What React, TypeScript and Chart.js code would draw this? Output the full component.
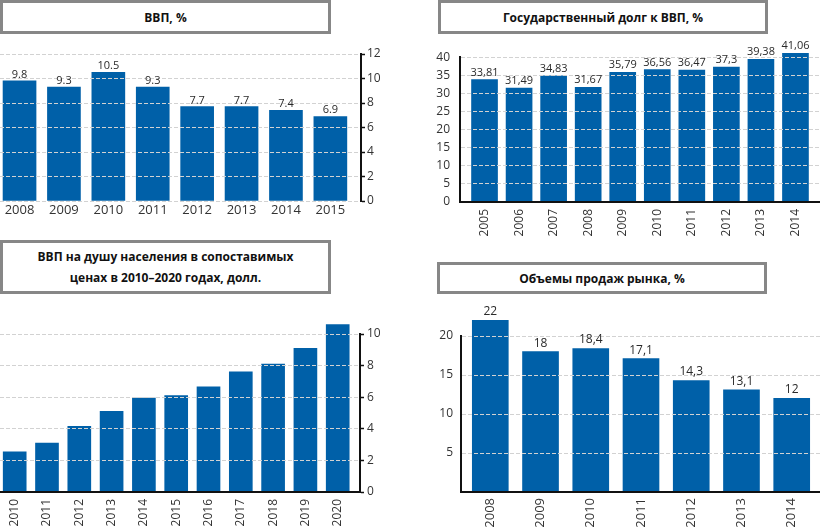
import React, { useEffect, useRef } from 'react';
import { Chart, registerables } from 'chart.js';

Chart.register(...registerables);

// ---------- data ----------
const gdpYears = ['2008', '2009', '2010', '2011', '2012', '2013', '2014', '2015'];
const gdpValues = [9.8, 9.3, 10.5, 9.3, 7.7, 7.7, 7.4, 6.9];

const debtYears = ['2005', '2006', '2007', '2008', '2009', '2010', '2011', '2012', '2013', '2014'];
const debtValues = [33.81, 31.49, 34.83, 31.67, 35.79, 36.56, 36.47, 37.3, 39.38, 41.06];

const perCapitaYears = ['2010', '2011', '2012', '2013', '2014', '2015', '2016', '2017', '2018', '2019', '2020'];
const perCapitaValues = [2.55, 3.1, 4.15, 5.1, 5.95, 6.1, 6.65, 7.6, 8.1, 9.1, 10.6];

const salesYears = ['2008', '2009', '2010', '2011', '2012', '2013', '2014'];
const salesValues = [22, 18, 18.4, 17.1, 14.3, 13.1, 12];

const titles = {
  gdp: 'ВВП, %',
  debt: 'Государственный долг к ВВП, %',
  perCapita: ['ВВП на душу населения в сопоставимых', 'ценах в 2010–2020 годах, долл.'],
  sales: 'Объемы продаж рынка, %',
};

// ---------- style ----------
const BAR = '#0060a8';
const GRID = 'rgba(210,210,210,1)';
const FONT = "'Open Sans', 'DejaVu Sans', sans-serif";
const AXIS = '#111';

Chart.defaults.font.family = FONT;
Chart.defaults.color = '#333';

function fmt(v: number, sep: string) {
  return String(v).replace('.', sep);
}

type Spec = {
  labels: string[];
  values: number[];
  sep: string | null;
  labelSize: number;
  labelGap: number;
  xMin: number;
  xMax: number;
  barThickness: number;
  yMax: number;
  yStep: number;
  yPos: 'left' | 'right';
  yWidth: number;
  yPad: number;
  tickMarks: boolean;
  hideZero: boolean;
  xHeight: number;
  xPad: number;
  xFont: number;
  rotate: number;
  xBorder: boolean;
  padTop: number;
};

function buildConfig(p: Spec): any {
  const texts = p.sep === null ? null : p.values.map((v) => fmt(v, p.sep as string));
  const valueLabels = {
    id: 'valueLabels',
    afterDraw(chart: any) {
      if (!texts) return;
      const meta = chart.getDatasetMeta(0);
      const ctx = chart.ctx;
      ctx.save();
      ctx.font = `${p.labelSize}px ${FONT}`;
      ctx.fillStyle = '#2a2a2a';
      ctx.textAlign = 'center';
      ctx.textBaseline = 'alphabetic';
      meta.data.forEach((el: any, i: number) => {
        ctx.fillText(texts[i], el.x, el.y - p.labelGap);
      });
      ctx.restore();
    },
  };
  return {
    type: 'bar',
    data: {
      datasets: [
        {
          data: p.values.map((v, i) => ({ x: i, y: v })),
          backgroundColor: BAR,
          borderWidth: 0,
          barThickness: p.barThickness,
          clip: false,
        },
      ],
    },
    plugins: [valueLabels],
    options: {
      responsive: false,
      animation: false,
      events: [],
      layout: { padding: { top: p.padTop, left: 0, right: 0, bottom: 0 } },
      plugins: {
        legend: { display: false },
        tooltip: { enabled: false },
        title: { display: false },
      },
      scales: {
        x: {
          type: 'linear',
          offset: false,
          min: p.xMin,
          max: p.xMax,
          afterBuildTicks: (s: any) => {
            s.ticks = p.labels.map((_, i) => ({ value: i }));
          },
          afterFit: (s: any) => {
            s.height = p.xHeight;
          },
          grid: { display: false, drawTicks: false, offset: false },
          border: { display: p.xBorder, color: AXIS, width: 2, z: 2 },
          ticks: {
            autoSkip: false,
            maxRotation: p.rotate,
            minRotation: p.rotate,
            padding: p.xPad,
            color: '#333',
            font: { size: p.xFont },
            callback: (v: number) => (p.labels[v] !== undefined ? p.labels[v] : ''),
          },
        },
        y: {
          position: p.yPos,
          min: 0,
          max: p.yMax,
          afterFit: (s: any) => {
            s.width = p.yWidth;
          },
          grid: {
            z: 1,
            color: GRID,
            lineWidth: 1,
            drawTicks: p.tickMarks,
            tickLength: 4,
            tickColor: AXIS,
            tickWidth: 1.5,
            tickBorderDash: [],
          },
          border: { display: true, color: AXIS, width: 2, dash: [4, 2], z: 2 },
          ticks: {
            stepSize: p.yStep,
            padding: p.yPad,
            color: '#333',
            font: { size: 12 },
            callback: (v: number) => (p.hideZero && v === 0 ? null : String(v)),
          },
        },
      },
    },
  };
}

type Box = { left: number; top: number; width: number; height: number };

function BarPanel({ box, spec }: { box: Box; spec: Spec }) {
  const ref = useRef<HTMLCanvasElement | null>(null);
  useEffect(() => {
    if (!ref.current) return;
    const chart = new Chart(ref.current, buildConfig(spec));
    return () => chart.destroy();
  }, []);
  return (
    <div style={{ position: 'absolute', left: box.left, top: box.top, width: box.width, height: box.height }}>
      <canvas ref={ref} width={box.width} height={box.height} style={{ display: 'block' }} />
    </div>
  );
}

function TitleBox({ box, lines }: { box: Box; lines: string[] }) {
  return (
    <div
      style={{
        position: 'absolute',
        left: box.left,
        top: box.top,
        width: box.width,
        height: box.height,
        boxSizing: 'border-box',
        border: '3px solid #878787',
        background: '#fff',
        display: 'flex',
        flexDirection: 'column',
        alignItems: 'center',
        justifyContent: 'center',
        fontFamily: FONT,
        fontWeight: 700,
        fontSize: 12,
        lineHeight: '21px',
        color: '#111',
        textAlign: 'center',
      }}
    >
      {lines.map((l, i) => (
        <div key={i}>{l}</div>
      ))}
    </div>
  );
}

export default function App() {
  const gdpSpec: Spec = {
    labels: gdpYears,
    values: gdpValues,
    sep: '.',
    labelSize: 11,
    labelGap: 3,
    xMin: -0.44,
    xMax: 7.69,
    barThickness: 33,
    yMax: 12,
    yStep: 2,
    yPos: 'right',
    yWidth: 39,
    yPad: 2,
    tickMarks: true,
    hideZero: false,
    xHeight: 24,
    xPad: 1,
    xFont: 13,
    rotate: 0,
    xBorder: false,
    padTop: 14,
  };
  const debtSpec: Spec = {
    labels: debtYears,
    values: debtValues,
    sep: ',',
    labelSize: 11,
    labelGap: 4,
    xMin: -0.71,
    xMax: 9.71,
    barThickness: 26,
    yMax: 40,
    yStep: 5,
    yPos: 'left',
    yWidth: 50,
    yPad: 10,
    tickMarks: false,
    hideZero: false,
    xHeight: 38,
    xPad: 7,
    xFont: 12,
    rotate: 90,
    xBorder: true,
    padTop: 13,
  };
  const perCapitaSpec: Spec = {
    labels: perCapitaYears,
    values: perCapitaValues,
    sep: null,
    labelSize: 11,
    labelGap: 4,
    xMin: -0.455,
    xMax: 10.69,
    barThickness: 23,
    yMax: 10,
    yStep: 2,
    yPos: 'right',
    yWidth: 40,
    yPad: 3,
    tickMarks: true,
    hideZero: false,
    xHeight: 39,
    xPad: 7,
    xFont: 12,
    rotate: 90,
    xBorder: true,
    padTop: 34,
  };
  const salesSpec: Spec = {
    labels: salesYears,
    values: salesValues,
    sep: ',',
    labelSize: 12,
    labelGap: 5,
    xMin: -0.583,
    xMax: 6.563,
    barThickness: 36,
    yMax: 20,
    yStep: 5,
    yPos: 'left',
    yWidth: 51,
    yPad: 8,
    tickMarks: false,
    hideZero: true,
    xHeight: 39,
    xPad: 6,
    xFont: 13,
    rotate: 90,
    xBorder: true,
    padTop: 36,
  };

  return (
    <div
      style={{
        position: 'absolute',
        left: 0,
        top: 0,
        width: 820,
        height: 531,
        overflow: 'hidden',
        background: '#fff',
      }}
    >
      <BarPanel box={{ left: 0, top: 40, width: 400, height: 185 }} spec={gdpSpec} />
      <BarPanel box={{ left: 410, top: 40, width: 410, height: 200 }} spec={debtSpec} />
      <BarPanel box={{ left: 0, top: 300, width: 400, height: 231 }} spec={perCapitaSpec} />
      <BarPanel box={{ left: 410, top: 300, width: 410, height: 231 }} spec={salesSpec} />
      <TitleBox box={{ left: 0, top: 0, width: 331, height: 34 }} lines={[titles.gdp]} />
      <TitleBox box={{ left: 438, top: 0, width: 330, height: 34 }} lines={[titles.debt]} />
      <TitleBox box={{ left: 0, top: 240, width: 331, height: 54 }} lines={titles.perCapita} />
      <TitleBox box={{ left: 437, top: 262, width: 330, height: 32 }} lines={[titles.sales]} />
    </div>
  );
}
